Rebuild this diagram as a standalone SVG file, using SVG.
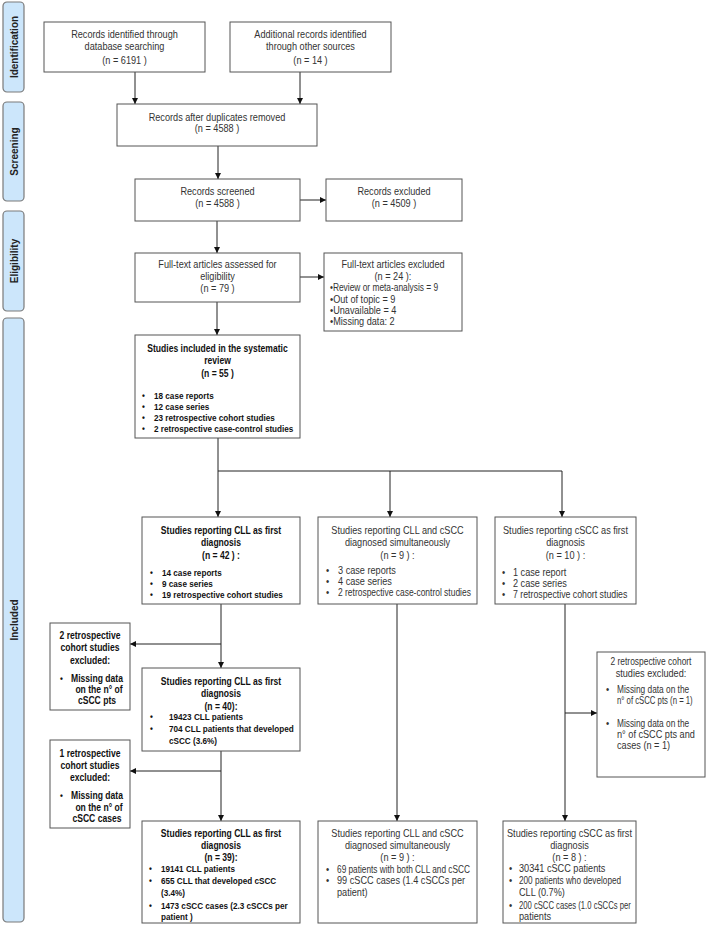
<svg xmlns="http://www.w3.org/2000/svg" width="709" height="926" viewBox="0 0 709 926">
<defs>
<marker id="ah" markerWidth="6" markerHeight="6" refX="6" refY="3" orient="auto" markerUnits="userSpaceOnUse">
<path d="M0,0 L6,3 L0,6 z" fill="#111"/>
</marker>
<style>
.box{fill:#fff;stroke:#555;stroke-width:1}
.side{fill:#cce6fb;stroke:#7a7a7a;stroke-width:1.2}
text{font-family:"Liberation Sans",Arial,sans-serif}
.sl{font-size:10px;font-weight:bold;fill:#222;text-anchor:middle}
.t{font-size:10.4px;fill:#333;text-anchor:middle}
.l{font-size:10.4px;fill:#333}
.bt{font-size:10.1px;font-weight:bold;fill:#111;text-anchor:middle}
.bl{font-size:9.6px;font-weight:bold;fill:#111}
.c{stroke:#222;stroke-width:1;fill:none}
.ca{stroke:#222;stroke-width:1;fill:none;marker-end:url(#ah)}
</style>
</defs>
<rect width="709" height="926" fill="#fff"/>

<g id="phase-identification"><rect class="side" x="3" y="2" width="21" height="90" rx="4"/><text class="sl" transform="translate(17.5,47) rotate(-90)">Identification</text></g>
<g id="phase-screening"><rect class="side" x="3" y="102" width="21" height="99" rx="4"/><text class="sl" transform="translate(17.5,151.5) rotate(-90)">Screening</text></g>
<g id="phase-eligibility"><rect class="side" x="3" y="211" width="21" height="100" rx="4"/><text class="sl" transform="translate(17.5,261) rotate(-90)">Eligibility</text></g>
<g id="phase-included"><rect class="side" x="3" y="318" width="21" height="604" rx="4"/><text class="sl" transform="translate(17.5,620) rotate(-90)">Included</text></g>

<g id="connectors">
<line class="ca" x1="135" y1="72" x2="135" y2="104"/>
<line class="ca" x1="300" y1="72" x2="300" y2="104"/>
<line class="ca" x1="218" y1="146" x2="218" y2="179"/>
<line class="ca" x1="300" y1="200" x2="326" y2="200"/>
<line class="ca" x1="217" y1="221" x2="217" y2="253"/>
<line class="ca" x1="300" y1="277" x2="324" y2="277"/>
<line class="ca" x1="217" y1="302" x2="217" y2="335"/>
<line class="c" x1="218" y1="438" x2="218" y2="471"/>
<line class="c" x1="218" y1="471" x2="562" y2="471" stroke="#666"/>
<line class="ca" x1="218" y1="471" x2="218" y2="517"/>
<line class="ca" x1="390" y1="471" x2="390" y2="517"/>
<line class="ca" x1="562" y1="471" x2="562" y2="517"/>
<line class="ca" x1="221" y1="604" x2="221" y2="668"/>
<line class="ca" x1="221" y1="644" x2="130" y2="644"/>
<line class="ca" x1="221" y1="751" x2="221" y2="821"/>
<line class="ca" x1="221" y1="771" x2="130" y2="771"/>
<line class="ca" x1="397" y1="604" x2="397" y2="821"/>
<line class="ca" x1="565" y1="604" x2="565" y2="821"/>
<line class="ca" x1="565" y1="713" x2="597" y2="713"/>
</g>

<g id="n-db">
<rect class="box" x="44" y="22" width="161" height="50"/>
<g transform="translate(124.5,0) scale(0.88,1) translate(-124.5,0)">
<text class="t" x="124.5" y="38.5">Records identified through</text>
<text class="t" x="124.5" y="50.5">database searching</text>
<text class="t" x="124.5" y="64.5">(n =  6191 )</text>
</g></g>
<g id="n-other">
<rect class="box" x="230" y="22" width="161" height="50"/>
<g transform="translate(310.5,0) scale(0.88,1) translate(-310.5,0)">
<text class="t" x="310.5" y="38.5">Additional records identified</text>
<text class="t" x="310.5" y="50.5">through other sources</text>
<text class="t" x="310.5" y="64.5">(n =  14 )</text>
</g></g>
<g id="n-dup">
<rect class="box" x="117" y="104" width="200" height="42"/>
<g transform="translate(217,0) scale(0.88,1) translate(-217,0)">
<text class="t" x="217" y="121.5">Records after duplicates removed</text>
<text class="t" x="217" y="132.5">(n = 4588 )</text>
</g></g>
<g id="n-screened">
<rect class="box" x="135" y="179" width="165" height="42"/>
<g transform="translate(217.5,0) scale(0.88,1) translate(-217.5,0)">
<text class="t" x="217.5" y="195.5">Records screened</text>
<text class="t" x="217.5" y="207.5">(n = 4588 )</text>
</g></g>
<g id="n-excluded">
<rect class="box" x="326" y="179" width="136" height="42"/>
<g transform="translate(394,0) scale(0.88,1) translate(-394,0)">
<text class="t" x="394" y="195.5">Records excluded</text>
<text class="t" x="394" y="207.5">(n = 4509   )</text>
</g></g>
<g id="n-fulltext">
<rect class="box" x="135" y="253" width="165" height="49"/>
<g transform="translate(217.5,0) scale(0.88,1) translate(-217.5,0)">
<text class="t" x="217.5" y="268.5">Full-text articles assessed for</text>
<text class="t" x="217.5" y="280.5">eligibility</text>
<text class="t" x="217.5" y="292.5">(n = 79 )</text>
</g></g>
<g id="n-ft-excluded">
<rect class="box" x="324" y="253" width="138" height="78"/>
<g transform="translate(393,0) scale(0.88,1) translate(-393,0)">
<text class="t" x="393" y="268.5">Full-text articles excluded</text>
<text class="t" x="393" y="280.5">(n = 24 ):</text>
<text class="l" x="321.4" y="291.5" textLength="123" lengthAdjust="spacingAndGlyphs">•Review or meta-analysis = 9</text>
<text class="l" x="321.4" y="303.5">•Out of topic = 9</text>
<text class="l" x="321.4" y="314.5">•Unavailable = 4</text>
<text class="l" x="321.4" y="325.5">•Missing data: 2</text>
</g></g>
<g id="n-included">
<rect class="box" x="135" y="335" width="165" height="103"/>
<g transform="translate(217.5,0) scale(0.85,1) translate(-217.5,0)">
<text class="bt" x="217.5" y="352.5">Studies included in the systematic</text>
<text class="bt" x="217.5" y="364">review</text>
<text class="bt" x="217.5" y="377">(n = 55 )</text>
<text class="bl" x="128.7" y="399.5">•</text><text class="bl" x="142.8" y="399.5">18 case reports</text>
<text class="bl" x="128.7" y="410.5">•</text><text class="bl" x="142.8" y="410.5">12 case series</text>
<text class="bl" x="128.7" y="421.5">•</text><text class="bl" x="142.8" y="421.5">23 retrospective cohort studies</text>
<text class="bl" x="128.7" y="432.5">•</text><text class="bl" x="142.8" y="432.5">2 retrospective case-control studies</text>
</g></g>

<g id="n-cll42">
<rect class="box" x="142" y="517" width="158" height="87"/>
<g transform="translate(221,0) scale(0.85,1) translate(-221,0)">
<text class="bt" x="221" y="534.5">Studies reporting CLL as first</text>
<text class="bt" x="221" y="546.5">diagnosis</text>
<text class="bt" x="221" y="559.5">(n = 42 ) :</text>
<text class="bl" x="137.5" y="576.5">•</text><text class="bl" x="151.6" y="576.5">14 case reports</text>
<text class="bl" x="137.5" y="587.5">•</text><text class="bl" x="151.6" y="587.5">9 case series</text>
<text class="bl" x="137.5" y="598.5">•</text><text class="bl" x="151.6" y="598.5">19 retrospective cohort studies</text>
</g></g>
<g id="n-sim9">
<rect class="box" x="318" y="517" width="159" height="87"/>
<g transform="translate(397.5,0) scale(0.88,1) translate(-397.5,0)">
<text class="t" x="397.5" y="534.5">Studies reporting CLL and cSCC</text>
<text class="t" x="397.5" y="546.5">diagnosed simultaneously</text>
<text class="t" x="397.5" y="559.5">(n = 9 ) :</text>
<text class="l" x="316.3" y="574.5">•</text><text class="l" x="329.9" y="574.5">3 case reports</text>
<text class="l" x="316.3" y="585.5">•</text><text class="l" x="329.9" y="585.5">4 case series</text>
<text class="l" x="316.3" y="596.5">•</text><text class="l" x="329.9" y="596.5" textLength="151" lengthAdjust="spacingAndGlyphs">2 retrospective case-control studies</text>
</g></g>
<g id="n-cscc10">
<rect class="box" x="495" y="517" width="141" height="87"/>
<g transform="translate(565.5,0) scale(0.88,1) translate(-565.5,0)">
<text class="t" x="565.5" y="534.5">Studies reporting cSCC as first</text>
<text class="t" x="565.5" y="546.5">diagnosis</text>
<text class="t" x="565.5" y="559.5">(n = 10 ) :</text>
<text class="l" x="493.3" y="576.5">•</text><text class="l" x="505.8" y="576.5">1 case report</text>
<text class="l" x="493.3" y="587.5">•</text><text class="l" x="505.8" y="587.5">2 case series</text>
<text class="l" x="493.3" y="598.5">•</text><text class="l" x="505.8" y="598.5" textLength="130" lengthAdjust="spacingAndGlyphs">7 retrospective cohort studies</text>
</g></g>

<g id="n-excl1">
<rect class="box" x="50" y="623" width="80" height="87"/>
<g transform="translate(90,0) scale(0.85,1) translate(-90,0)">
<text class="bt" x="90" y="639.5">2 retrospective</text>
<text class="bt" x="90" y="651.5">cohort studies</text>
<text class="bt" x="90" y="664.5">excluded:</text>
<text class="bl" x="54.7" y="682.5">•</text>
<text class="bt" x="98.2" y="682.5">Missing data</text>
<text class="bt" x="100.6" y="693.5">on the n° of</text>
<text class="bt" x="98.2" y="704.5">cSCC pts</text>
</g></g>
<g id="n-cll40">
<rect class="box" x="142" y="668" width="158" height="83"/>
<g transform="translate(221,0) scale(0.85,1) translate(-221,0)">
<text class="bt" x="221" y="685.5">Studies reporting CLL as first</text>
<text class="bt" x="221" y="697.5">diagnosis</text>
<text class="bt" x="221" y="710.5">(n = 40):</text>
<text class="bl" x="137.5" y="720.5">•</text><text class="bl" x="159.8" y="720.5">19423 CLL patients</text>
<text class="bl" x="137.5" y="732.5">•</text><text class="bl" x="159.8" y="732.5">704 CLL patients that developed</text>
<text class="bl" x="159.8" y="744">cSCC (3.6%)</text>
</g></g>
<g id="n-excl2">
<rect class="box" x="50" y="740" width="80" height="88"/>
<g transform="translate(90,0) scale(0.85,1) translate(-90,0)">
<text class="bt" x="90" y="757.5">1 retrospective</text>
<text class="bt" x="90" y="769.5">cohort studies</text>
<text class="bt" x="90" y="781.5">excluded:</text>
<text class="bl" x="54.7" y="799.5">•</text>
<text class="bt" x="98.2" y="799.5">Missing data</text>
<text class="bt" x="100.6" y="811">on the n° of</text>
<text class="bt" x="98.2" y="822">cSCC cases</text>
</g></g>
<g id="n-excl3">
<rect class="box" x="597" y="652" width="108" height="125"/>
<g transform="translate(651,0) scale(0.88,1) translate(-651,0)">
<text class="t" x="651" y="665.5" textLength="92" lengthAdjust="spacingAndGlyphs">2 retrospective cohort</text>
<text class="t" x="651" y="677.5">studies excluded:</text>
<text class="l" x="599.9" y="693.5">•</text><text class="l" x="612.4" y="693.5" textLength="82" lengthAdjust="spacingAndGlyphs">Missing data on the</text>
<text class="l" x="612.4" y="704.5" textLength="86" lengthAdjust="spacingAndGlyphs">n° of cSCC pts (n = 1)</text>
<text class="l" x="599.9" y="727.5">•</text><text class="l" x="612.4" y="727.5" textLength="82" lengthAdjust="spacingAndGlyphs">Missing data on the</text>
<text class="l" x="612.4" y="738.5">n° of cSCC pts and</text>
<text class="l" x="612.4" y="749.5">cases (n = 1)</text>
</g></g>

<g id="n-cll39">
<rect class="box" x="142" y="821" width="158" height="102"/>
<g transform="translate(221,0) scale(0.85,1) translate(-221,0)">
<text class="bt" x="221" y="837.5">Studies reporting CLL as first</text>
<text class="bt" x="221" y="849.5">diagnosis</text>
<text class="bt" x="221" y="861.5">(n = 39):</text>
<text class="bl" x="136.3" y="872.5">•</text><text class="bl" x="150.4" y="872.5">19141 CLL patients</text>
<text class="bl" x="136.3" y="884.5">•</text><text class="bl" x="150.4" y="884.5">655 CLL that developed cSCC</text>
<text class="bl" x="150.4" y="896.5">(3.4%)</text>
<text class="bl" x="136.3" y="909.5">•</text><text class="bl" x="150.4" y="909.5">1473 cSCC cases (2.3 cSCCs per</text>
<text class="bl" x="150.4" y="920.5">patient )</text>
</g></g>
<g id="n-sim9b">
<rect class="box" x="318" y="821" width="159" height="102"/>
<g transform="translate(397.5,0) scale(0.88,1) translate(-397.5,0)">
<text class="t" x="397.5" y="837.5">Studies reporting CLL and cSCC</text>
<text class="t" x="397.5" y="849.5">diagnosed simultaneously</text>
<text class="t" x="397.5" y="861.5">(n = 9 ) :</text>
<text class="l" x="316.3" y="873.5">•</text><text class="l" x="328.8" y="873.5" textLength="151" lengthAdjust="spacingAndGlyphs">69 patients with both CLL and cSCC</text>
<text class="l" x="316.3" y="884.5">•</text><text class="l" x="328.8" y="884.5">99 cSCC cases (1.4 cSCCs per</text>
<text class="l" x="328.8" y="896.5">patient)</text>
</g></g>
<g id="n-cscc8">
<rect class="box" x="503" y="821" width="133" height="102"/>
<g transform="translate(569.5,0) scale(0.88,1) translate(-569.5,0)">
<text class="t" x="569.5" y="837.5">Studies reporting cSCC as first</text>
<text class="t" x="569.5" y="849.5">diagnosis</text>
<text class="t" x="569.5" y="861.5">(n = 8 ) :</text>
<text class="l" x="500.8" y="872.5">•</text><text class="l" x="512.1" y="872.5">30341 cSCC patients</text>
<text class="l" x="500.8" y="884.5">•</text><text class="l" x="512.1" y="884.5" textLength="116" lengthAdjust="spacingAndGlyphs">200 patients who developed</text>
<text class="l" x="512.1" y="896.5">CLL (0.7%)</text>
<text class="l" x="500.8" y="909.5">•</text><text class="l" x="512.1" y="909.5" textLength="127" lengthAdjust="spacingAndGlyphs">200 cSCC cases (1.0 cSCCs per</text>
<text class="l" x="512.1" y="920.5">patients</text>
</g></g>
</svg>
